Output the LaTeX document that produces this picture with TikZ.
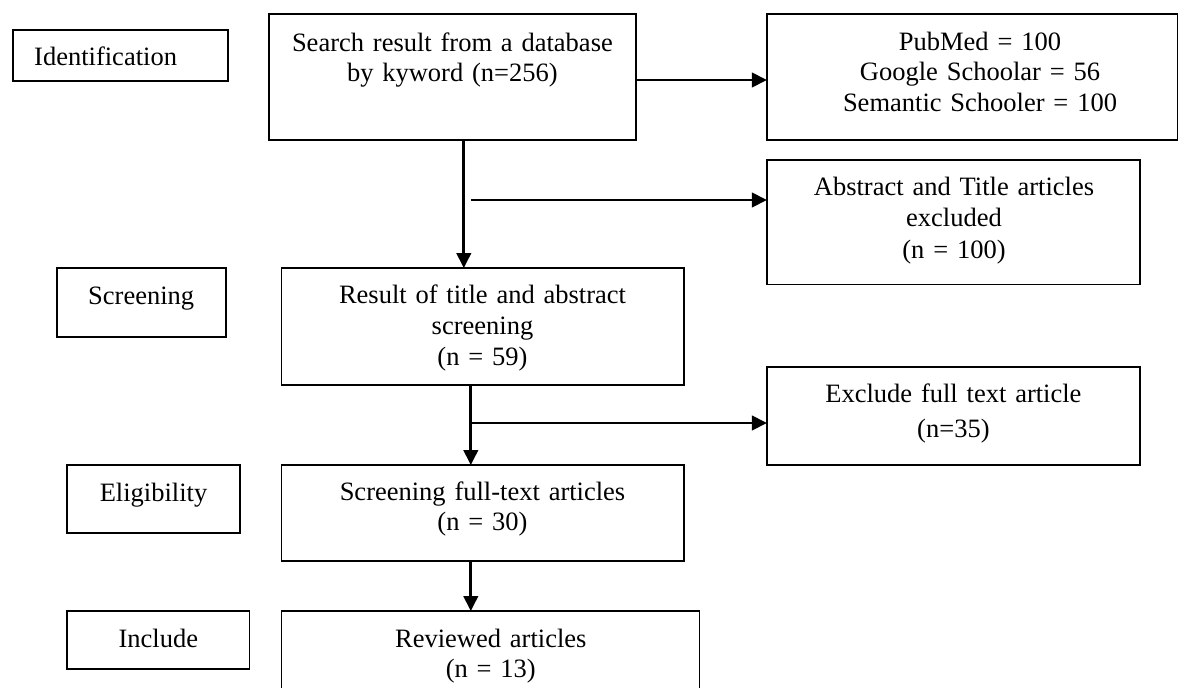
\documentclass[tikz,border=0pt]{standalone}
\usepackage{fontspec}
\setmainfont{Liberation Serif}
\usetikzlibrary{arrows.meta}
\begin{document}
\begin{tikzpicture}[x=1pt,y=-1pt,
  box/.style={draw=black,line width=1.6pt,inner sep=0pt,outer sep=0pt},
  txt/.style={anchor=base,inner sep=0pt,outer sep=0pt,text width=440pt,align=center,
    font=\fontsize{26.5}{30.5}\selectfont},
  arr/.style={line width=2.7pt,-{Triangle[length=15pt,width=14.5pt]}}]
\useasboundingbox (0,0) rectangle (1178,688);
% stage labels
\node[box,minimum width=215pt,minimum height=51pt] (idl) at (120.2,55.5) {};
\node[txt] (idlT) at (105.6,65.7) {Identification};
\node[box,minimum width=169pt,minimum height=69pt] (scl) at (141.2,302.5) {};
\node[txt] (sclT) at (141.2,304) {Screening};
\node[box,minimum width=173pt,minimum height=68pt] (ell) at (153.5,499) {};
\node[txt] (ellT) at (153.5,501) {Eligibility};
\node[box,minimum width=182.5pt,minimum height=58pt] (inl) at (158.3,640) {};
\node[txt] (inlT) at (158.3,647) {Include};
% main boxes
\node[box,minimum width=366.7pt,minimum height=126pt] (search) at (452.4,77) {};
\node[txt] (searchT) at (452.4,51) {Search result from a database\\by kyword (n=256)};
\node[box,minimum width=410.6pt,minimum height=126pt] (pub) at (972.2,77) {};
\node[txt] (pubT) at (980,50) {PubMed = 100\\Google Schoolar = 56\\Semantic Schooler = 100};
\node[box,minimum width=373pt,minimum height=124.7pt] (abs) at (953.4,222.3) {};
\node[txt,font=\fontsize{26.5}{31.5}\selectfont] (absT) at (954,195) {Abstract and Title articles\\excluded\\(n = 100)};
\node[box,minimum width=402.4pt,minimum height=117pt] (res) at (482.5,326.5) {};
\node[txt,font=\fontsize{26.5}{31}\selectfont] (resT) at (482.5,303) {Result of title and abstract\\screening\\(n = 59)};
\node[box,minimum width=373pt,minimum height=98pt] (exc) at (953.4,416) {};
\node[txt,font=\fontsize{26.5}{35}\selectfont] (excT) at (953.4,402) {Exclude full text article\\(n=35)};
\node[box,minimum width=402.4pt,minimum height=96pt] (elig) at (482.5,513) {};
\node[txt] (eligT) at (482.5,500) {Screening full-text articles\\(n = 30)};
\node[box,minimum width=418.1pt,minimum height=84pt] (rev) at (490.35,653) {};
\node[txt] (revT) at (490.8,647) {Reviewed articles\\(n = 13)};
% connector helpers
\coordinate (vA) at (463.8,0);
\coordinate (vB) at (470.8,0);
\coordinate (h1) at (0,80);
\coordinate (b1) at (470.8,200);
\coordinate (b2) at (470.8,423);
% connectors
\draw[arr] (search.east |- h1) -- (pub.west |- h1);
\draw[arr] (search.south -| vA) -- (res.north -| vA);
\draw[arr] (b1) -- (abs.west |- b1);
\draw[arr] (res.south -| vB) -- (elig.north -| vB);
\draw[arr] (b2) -- (exc.west |- b2);
\draw[arr] (elig.south -| vB) -- (rev.north -| vB);
\end{tikzpicture}
\end{document}
